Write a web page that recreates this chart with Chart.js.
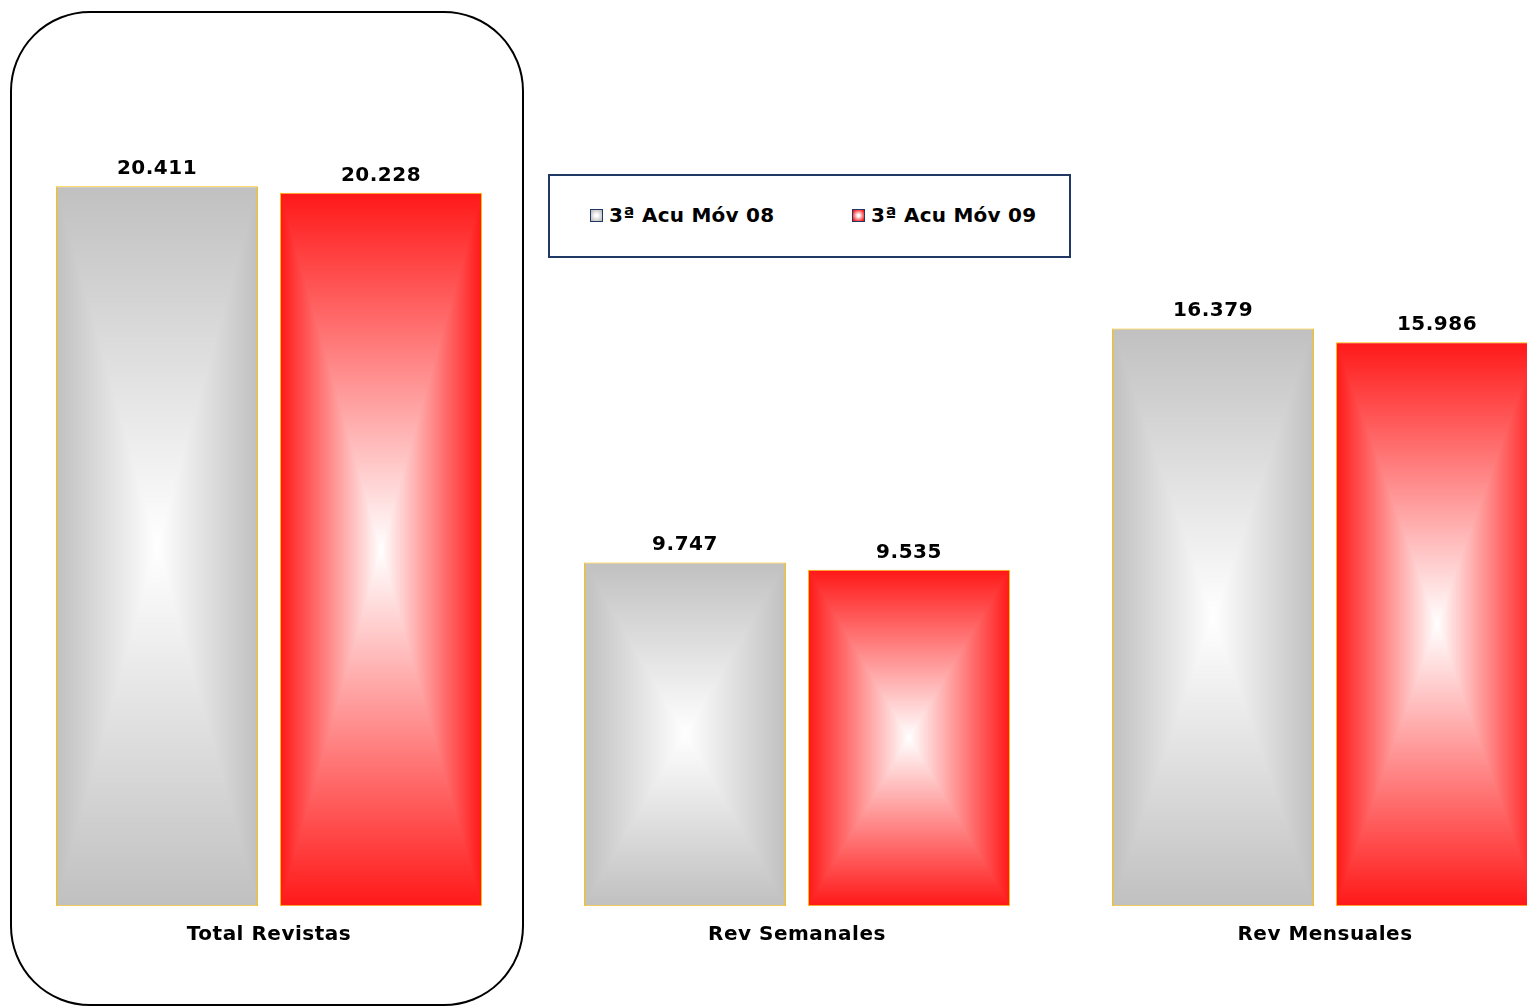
<!DOCTYPE html>
<html lang="es">

<head>
    <meta charset="UTF-8">
    <title>3ª Acu Móv - Revistas</title>
    <style>
        html, body { margin: 0; padding: 0; background: #fff; overflow: hidden; width: 1527px; height: 1007px; }
        #Marco { position: absolute; left: 10px; top: 11px; width: 510px; height: 991px; border: 2px solid #000; border-radius: 80px; }
        #Grafico { position: absolute; left: 0; top: 0; }
        #Leyenda { position: absolute; left: 548px; top: 174px; width: 519px; height: 80px; border: 2px solid #1F3864; background: #fff; }
        .item { position: absolute; top: 27px; height: 24px; display: flex; align-items: center; font: bold 20px "DejaVu Sans"; letter-spacing: 0.25px; color: #000; white-space: nowrap; }
        .cuadro { width: 11px; height: 11px; border: 1px solid #1F3864; margin-right: 6px; }
    </style>
</head>

<body>
    <div id="Marco"></div>
    <canvas id="Grafico" width="1600" height="1007"></canvas>
    <div id="Leyenda"></div>
</body>

</html>
<script src="https://cdn.jsdelivr.net/npm/chart.js"></script>
<script>
    // datos
    const categorias = ['Total Revistas', 'Rev Semanales', 'Rev Mensuales'];
    const series = ['3ª Acu Móv 08', '3ª Acu Móv 09'];
    const acuMov08 = [20411, 9747, 16379];
    const acuMov09 = [20228, 9535, 15986];

    // estilos
    const coresRGB = [[192, 192, 192], [255, 24, 24]];
    const corBorda = '#FFC000';
    const fonte = 'DejaVu Sans';

    function rgb(c) { return `rgb(${c[0]},${c[1]},${c[2]})`; }

    function formatar(v) {
        return String(v).replace(/\B(?=(\d{3})+(?!\d))/g, '.');
    }

    // degradado rectangular desde el centro (blanco en el centro, color en los bordes)
    function degradadoCentro(w, h, cor) {
        const off = document.createElement('canvas');
        off.width = Math.max(1, Math.round(w));
        off.height = Math.max(1, Math.round(h));
        const oc = off.getContext('2d');
        const img = oc.createImageData(off.width, off.height);
        const hw = off.width / 2, hh = off.height / 2;
        for (let j = 0; j < off.height; j++) {
            for (let i = 0; i < off.width; i++) {
                const dx = Math.abs(i + 0.5 - hw) / hw;
                const dy = Math.abs(j + 0.5 - hh) / hh;
                const t = Math.max(dx, dy);
                const k = (j * off.width + i) * 4;
                img.data[k] = 255 + (cor[0] - 255) * t;
                img.data[k + 1] = 255 + (cor[1] - 255) * t;
                img.data[k + 2] = 255 + (cor[2] - 255) * t;
                img.data[k + 3] = 255;
            }
        }
        oc.putImageData(img, 0, 0);
        return off;
    }

    const pluginDegradado = {
        id: 'degradado',
        beforeDraw(chart) {
            chart.ctx.letterSpacing = '0.5px';
        },
        beforeDatasetsDraw(chart) {
            chart.data.datasets.forEach((ds, di) => {
                chart.getDatasetMeta(di).data.forEach((el) => {
                    const p = el.getProps(['x', 'y', 'base', 'width'], true);
                    const left = p.x - p.width / 2;
                    const top = Math.min(p.y, p.base);
                    const h = Math.abs(p.base - p.y);
                    const pat = chart.ctx.createPattern(degradadoCentro(p.width, h, coresRGB[di]), 'no-repeat');
                    pat.setTransform(new DOMMatrix().translate(left, top));
                    // copia propia de las opciones para cada barra
                    el.options = Object.assign({}, el.options, { backgroundColor: pat });
                });
            });
        }
    };

    const pluginEtiquetas = {
        id: 'etiquetas',
        afterDatasetsDraw(chart) {
            const ctx = chart.ctx;
            ctx.save();
            ctx.font = `bold 20px "${fonte}"`;
            ctx.fillStyle = '#000';
            ctx.textAlign = 'center';
            ctx.textBaseline = 'alphabetic';
            chart.data.datasets.forEach((ds, di) => {
                chart.getDatasetMeta(di).data.forEach((el, i) => {
                    ctx.fillText(formatar(ds.data[i]), el.x, el.y - 12);
                });
            });
            ctx.restore();
        }
    };

    new Chart(document.getElementById('Grafico'), {
        type: 'bar',
        data: {
            labels: categorias,
            datasets: [
                { label: series[0], data: acuMov08, backgroundColor: () => rgb(coresRGB[0]), borderColor: corBorda },
                { label: series[1], data: acuMov09, backgroundColor: () => rgb(coresRGB[1]), borderColor: corBorda }
            ]
        },
        options: {
            responsive: false,
            devicePixelRatio: 1,
            animation: false,
            layout: { padding: { left: 5, right: 11, top: 24.35, bottom: 42.8 } },
            datasets: {
                bar: {
                    borderWidth: 1,
                    borderSkipped: false,
                    inflateAmount: 0,
                    barPercentage: 202 / 224,
                    categoryPercentage: 448 / 528
                }
            },
            plugins: {
                colors: { enabled: false },
                legend: { display: false },
                tooltip: { enabled: false }
            },
            scales: {
                x: {
                    grid: { display: false, drawTicks: false },
                    border: { display: false },
                    ticks: {
                        color: '#000',
                        font: { family: fonte, size: 20, weight: 'bold' },
                        padding: 17,
                        maxRotation: 0,
                        autoSkip: false
                    }
                },
                y: { display: false, min: 0, max: 25000 }
            }
        },
        plugins: [pluginDegradado, pluginEtiquetas]
    });

    // leyenda
    const leyenda = document.getElementById('Leyenda');
    const posLeyenda = [40, 302];
    series.forEach((s, i) => {
        const item = document.createElement('div');
        item.className = 'item';
        item.style.left = posLeyenda[i] + 'px';
        const cuadro = document.createElement('span');
        cuadro.className = 'cuadro';
        cuadro.style.background = `radial-gradient(#fff 15%, ${rgb(coresRGB[i])} 85%)`;
        const texto = document.createElement('span');
        texto.textContent = s;
        item.appendChild(cuadro);
        item.appendChild(texto);
        leyenda.appendChild(item);
    });
</script>
